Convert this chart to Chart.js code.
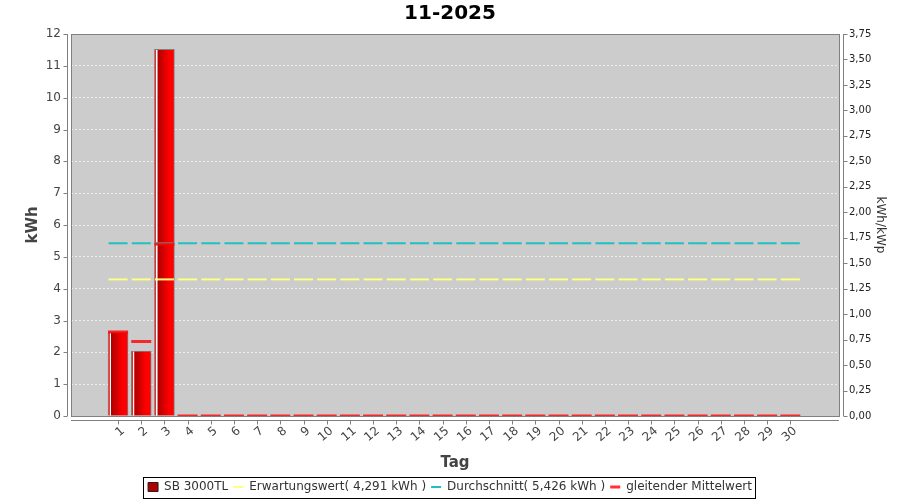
<!DOCTYPE html>
<html>
<head>
<meta charset="utf-8">
<script src="https://cdn.jsdelivr.net/npm/chart.js@4/dist/chart.umd.min.js"></script>
<style>
    html, body { margin: 0; padding: 0; background: #ffffff; }
    #wrap { width: 900px; height: 500px; }
</style>
</head>
<body>
<div id="wrap"><canvas id="chart" width="900" height="500"></canvas></div>
<script>
var titel = '11-2025';
var tage = [1, 2, 3, 4, 5, 6, 7, 8, 9, 10, 11, 12, 13, 14, 15, 16, 17, 18, 19, 20, 21, 22, 23, 24, 25, 26, 27, 28, 29, 30];
var ertrag = [2.64, 2.04, 11.52, 0, 0, 0, 0, 0, 0, 0, 0, 0, 0, 0, 0, 0, 0, 0, 0, 0, 0, 0, 0, 0, 0, 0, 0, 0, 0, 0];
var mittelwert = [2.64, 2.34, 5.40, 0, 0, 0, 0, 0, 0, 0, 0, 0, 0, 0, 0, 0, 0, 0, 0, 0, 0, 0, 0, 0, 0, 0, 0, 0, 0, 0];
var erwartung = [4.291, 4.291, 4.291, 4.291, 4.291, 4.291, 4.291, 4.291, 4.291, 4.291, 4.291, 4.291, 4.291, 4.291, 4.291, 4.291, 4.291, 4.291, 4.291, 4.291, 4.291, 4.291, 4.291, 4.291, 4.291, 4.291, 4.291, 4.291, 4.291, 4.291];
var durchschnitt = [5.426, 5.426, 5.426, 5.426, 5.426, 5.426, 5.426, 5.426, 5.426, 5.426, 5.426, 5.426, 5.426, 5.426, 5.426, 5.426, 5.426, 5.426, 5.426, 5.426, 5.426, 5.426, 5.426, 5.426, 5.426, 5.426, 5.426, 5.426, 5.426, 5.426];
var kwhTicks = [0, 1, 2, 3, 4, 5, 6, 7, 8, 9, 10, 11, 12];
var kwpTicks = [0, 0.25, 0.5, 0.75, 1, 1.25, 1.5, 1.75, 2, 2.25, 2.5, 2.75, 3, 3.25, 3.5, 3.75];
var legendTexte = ['SB 3000TL', 'Erwartungswert( 4,291 kWh )', 'Durchschnitt( 5,426 kWh )', 'gleitender Mittelwert'];

function punkte(werte) {
    var res = [];
    for (var i = 0; i < tage.length; i++) {
        res.push({ x: tage[i], y: werte[i] });
    }
    return res;
}

// red bar with the little white highlight on the left
function balkenFarbe(c) {
    var xs = c.chart.scales.x;
    if (!xs || !c.parsed) return '#d00000';
    var cx = xs.getPixelForValue(c.parsed.x);
    if (!isFinite(cx)) return '#d00000';
    var g = c.chart.ctx.createLinearGradient(cx - 10, 0, cx + 10, 0);
    g.addColorStop(0, '#ff2020');
    g.addColorStop(0.07, '#ff2020');
    g.addColorStop(0.09, '#ffffff');
    g.addColorStop(0.14, '#ffffff');
    g.addColorStop(0.17, '#b00000');
    g.addColorStop(0.75, '#ff0000');
    g.addColorStop(1, '#ff0000');
    return g;
}

var rahmen = {
    id: 'rahmen',
    beforeDraw: function(chart) {
        var a = chart.chartArea;
        var ctx = chart.ctx;
        ctx.save();
        ctx.fillStyle = '#cccccc';
        ctx.fillRect(a.left, a.top, a.right - a.left, a.bottom - a.top);
        ctx.restore();
    },
    afterDraw: function(chart) {
        var a = chart.chartArea;
        var ctx = chart.ctx;
        ctx.save();
        ctx.strokeStyle = '#808080';
        ctx.lineWidth = 1;
        ctx.strokeRect(Math.round(a.left) + 0.5, Math.round(a.top) + 0.5, Math.round(a.right - a.left), Math.round(a.bottom - a.top));

        // axis lines sit 4px away from the plot
        var l = Math.round(a.left) - 3.5, r = Math.round(a.right) + 4.5, b = Math.round(a.bottom) + 4.5;
        ctx.beginPath();
        ctx.moveTo(l, a.top); ctx.lineTo(l, a.bottom);
        ctx.moveTo(r, a.top); ctx.lineTo(r, a.bottom);
        ctx.moveTo(a.left, b); ctx.lineTo(a.right, b);
        var ys = chart.scales.y, y2 = chart.scales.y2, xs = chart.scales.x;
        ys.ticks.forEach(function(t) {
            var p = Math.round(ys.getPixelForValue(t.value)) + 0.5;
            ctx.moveTo(l, p); ctx.lineTo(l - 4, p);
        });
        y2.ticks.forEach(function(t) {
            var p = Math.round(y2.getPixelForValue(t.value)) + 0.5;
            ctx.moveTo(r, p); ctx.lineTo(r + 4, p);
        });
        xs.ticks.forEach(function(t) {
            var p = Math.round(xs.getPixelForValue(t.value)) + 0.5;
            ctx.moveTo(p, b); ctx.lineTo(p, b + 4);
        });
        ctx.stroke();

        // box round the legend
        var boxes = chart.legend.legendHitBoxes;
        if (boxes && boxes.length) {
            var x0 = boxes[0].left, x1 = boxes[boxes.length - 1].left + boxes[boxes.length - 1].width;
            ctx.strokeStyle = '#000000';
            ctx.strokeRect(Math.round(x0) - 4.5, Math.round(chart.legend.top) + 1.5, Math.round(x1 - x0) + 8, 21);
        }
        ctx.restore();
    }
};

Chart.defaults.font.family = 'DejaVu Sans';
Chart.defaults.animation = false;

new Chart(document.getElementById('chart'), {
    type: 'bar',
    data: {
        datasets: [
            {
                type: 'bar',
                label: legendTexte[0],
                data: punkte(ertrag),
                backgroundColor: balkenFarbe,
                borderColor: '#808080',
                borderWidth: 1,
                barThickness: 20,
                pointStyle: 'rect',
                order: 2
            },
            {
                type: 'line',
                label: legendTexte[1],
                data: punkte(erwartung),
                showLine: false,
                pointStyle: 'line',
                pointRadius: 9.5,
                borderColor: '#ffff80',
                backgroundColor: '#ffff80',
                borderWidth: 2,
                pointBorderWidth: 2,
                order: 1
            },
            {
                type: 'line',
                label: legendTexte[2],
                data: punkte(durchschnitt),
                showLine: false,
                pointStyle: 'line',
                pointRadius: 9.5,
                borderColor: '#20c0c0',
                backgroundColor: '#20c0c0',
                borderWidth: 2,
                pointBorderWidth: 2,
                order: 1
            },
            {
                type: 'line',
                label: legendTexte[3],
                data: punkte(mittelwert),
                showLine: false,
                pointStyle: 'line',
                pointRadius: 10,
                borderColor: 'rgba(255,0,0,0.8)',
                backgroundColor: 'rgba(255,0,0,0.8)',
                borderWidth: 3,
                pointBorderWidth: 3,
                order: 0
            }
        ]
    },
    options: {
        responsive: false,
        layout: { padding: { left: 0, right: 0, top: 0, bottom: 2 } },
        plugins: {
            title: {
                display: true,
                text: titel,
                color: '#000000',
                font: { size: 20, weight: 'bold' },
                padding: { top: 2, bottom: 8 }
            },
            legend: {
                position: 'bottom',
                maxHeight: 22,
                labels: {
                    usePointStyle: true,
                    pointStyleWidth: 10,
                    boxHeight: 9,
                    padding: 5,
                    color: '#333333',
                    font: { size: 12 },
                    sort: function(a, b) { return a.datasetIndex - b.datasetIndex; },
                    generateLabels: function(chart) {
                        var items = Chart.defaults.plugins.legend.labels.generateLabels(chart);
                        items.forEach(function(it) {
                            if (it.datasetIndex === 0) {
                                it.fillStyle = '#b00000';
                                it.strokeStyle = '#202020';
                                it.lineWidth = 1;
                            }
                        });
                        return items;
                    }
                }
            },
            tooltip: { enabled: false }
        },
        scales: {
            x: {
                type: 'linear',
                offset: false,
                min: -1.03,
                max: 32.1,
                afterBuildTicks: function(s) { s.ticks = tage.map(function(d) { return { value: d }; }); },
                afterFit: function(s) { s.height = 60; },
                grid: { drawOnChartArea: false, tickLength: 8, tickColor: 'rgba(0,0,0,0)' },
                border: { display: false },
                ticks: {
                    minRotation: 40,
                    maxRotation: 40,
                    autoSkip: false,
                    labelOffset: 5,
                    padding: 0,
                    color: '#444444',
                    font: { size: 12 },
                    callback: function(v) { return String(v); }
                },
                title: { display: true, text: 'Tag', color: '#444444', font: { size: 15, weight: 'bold' }, padding: { top: 0, bottom: 4 } }
            },
            y: {
                position: 'left',
                min: 0,
                max: 12,
                afterBuildTicks: function(s) { s.ticks = kwhTicks.map(function(v) { return { value: v }; }); },
                afterFit: function(s) { s.width = 71; },
                grid: { color: '#eeeeee', lineWidth: 1, tickLength: 8, tickColor: 'rgba(0,0,0,0)' },
                border: { display: false, dash: [2, 2] },
                ticks: { padding: 2, color: '#444444', font: { size: 12 } },
                title: { display: true, text: 'kWh', color: '#444444', font: { size: 15, weight: 'bold' }, padding: { top: 24 } }
            },
            y2: {
                position: 'right',
                min: 0,
                max: 3.75,
                afterBuildTicks: function(s) { s.ticks = kwpTicks.map(function(v) { return { value: v }; }); },
                afterFit: function(s) { s.width = 61; },
                grid: { drawOnChartArea: false, tickLength: 8, tickColor: 'rgba(0,0,0,0)' },
                border: { display: false },
                ticks: {
                    padding: 2,
                    color: '#222222',
                    font: { size: 10 },
                    callback: function(v) { return v.toFixed(2).replace('.', ','); }
                },
                title: { display: true, text: 'kWh/kWp', color: '#333333', font: { size: 12 }, padding: { top: 13 } }
            }
        }
    },
    plugins: [rahmen]
});
</script>
</body>
</html>
